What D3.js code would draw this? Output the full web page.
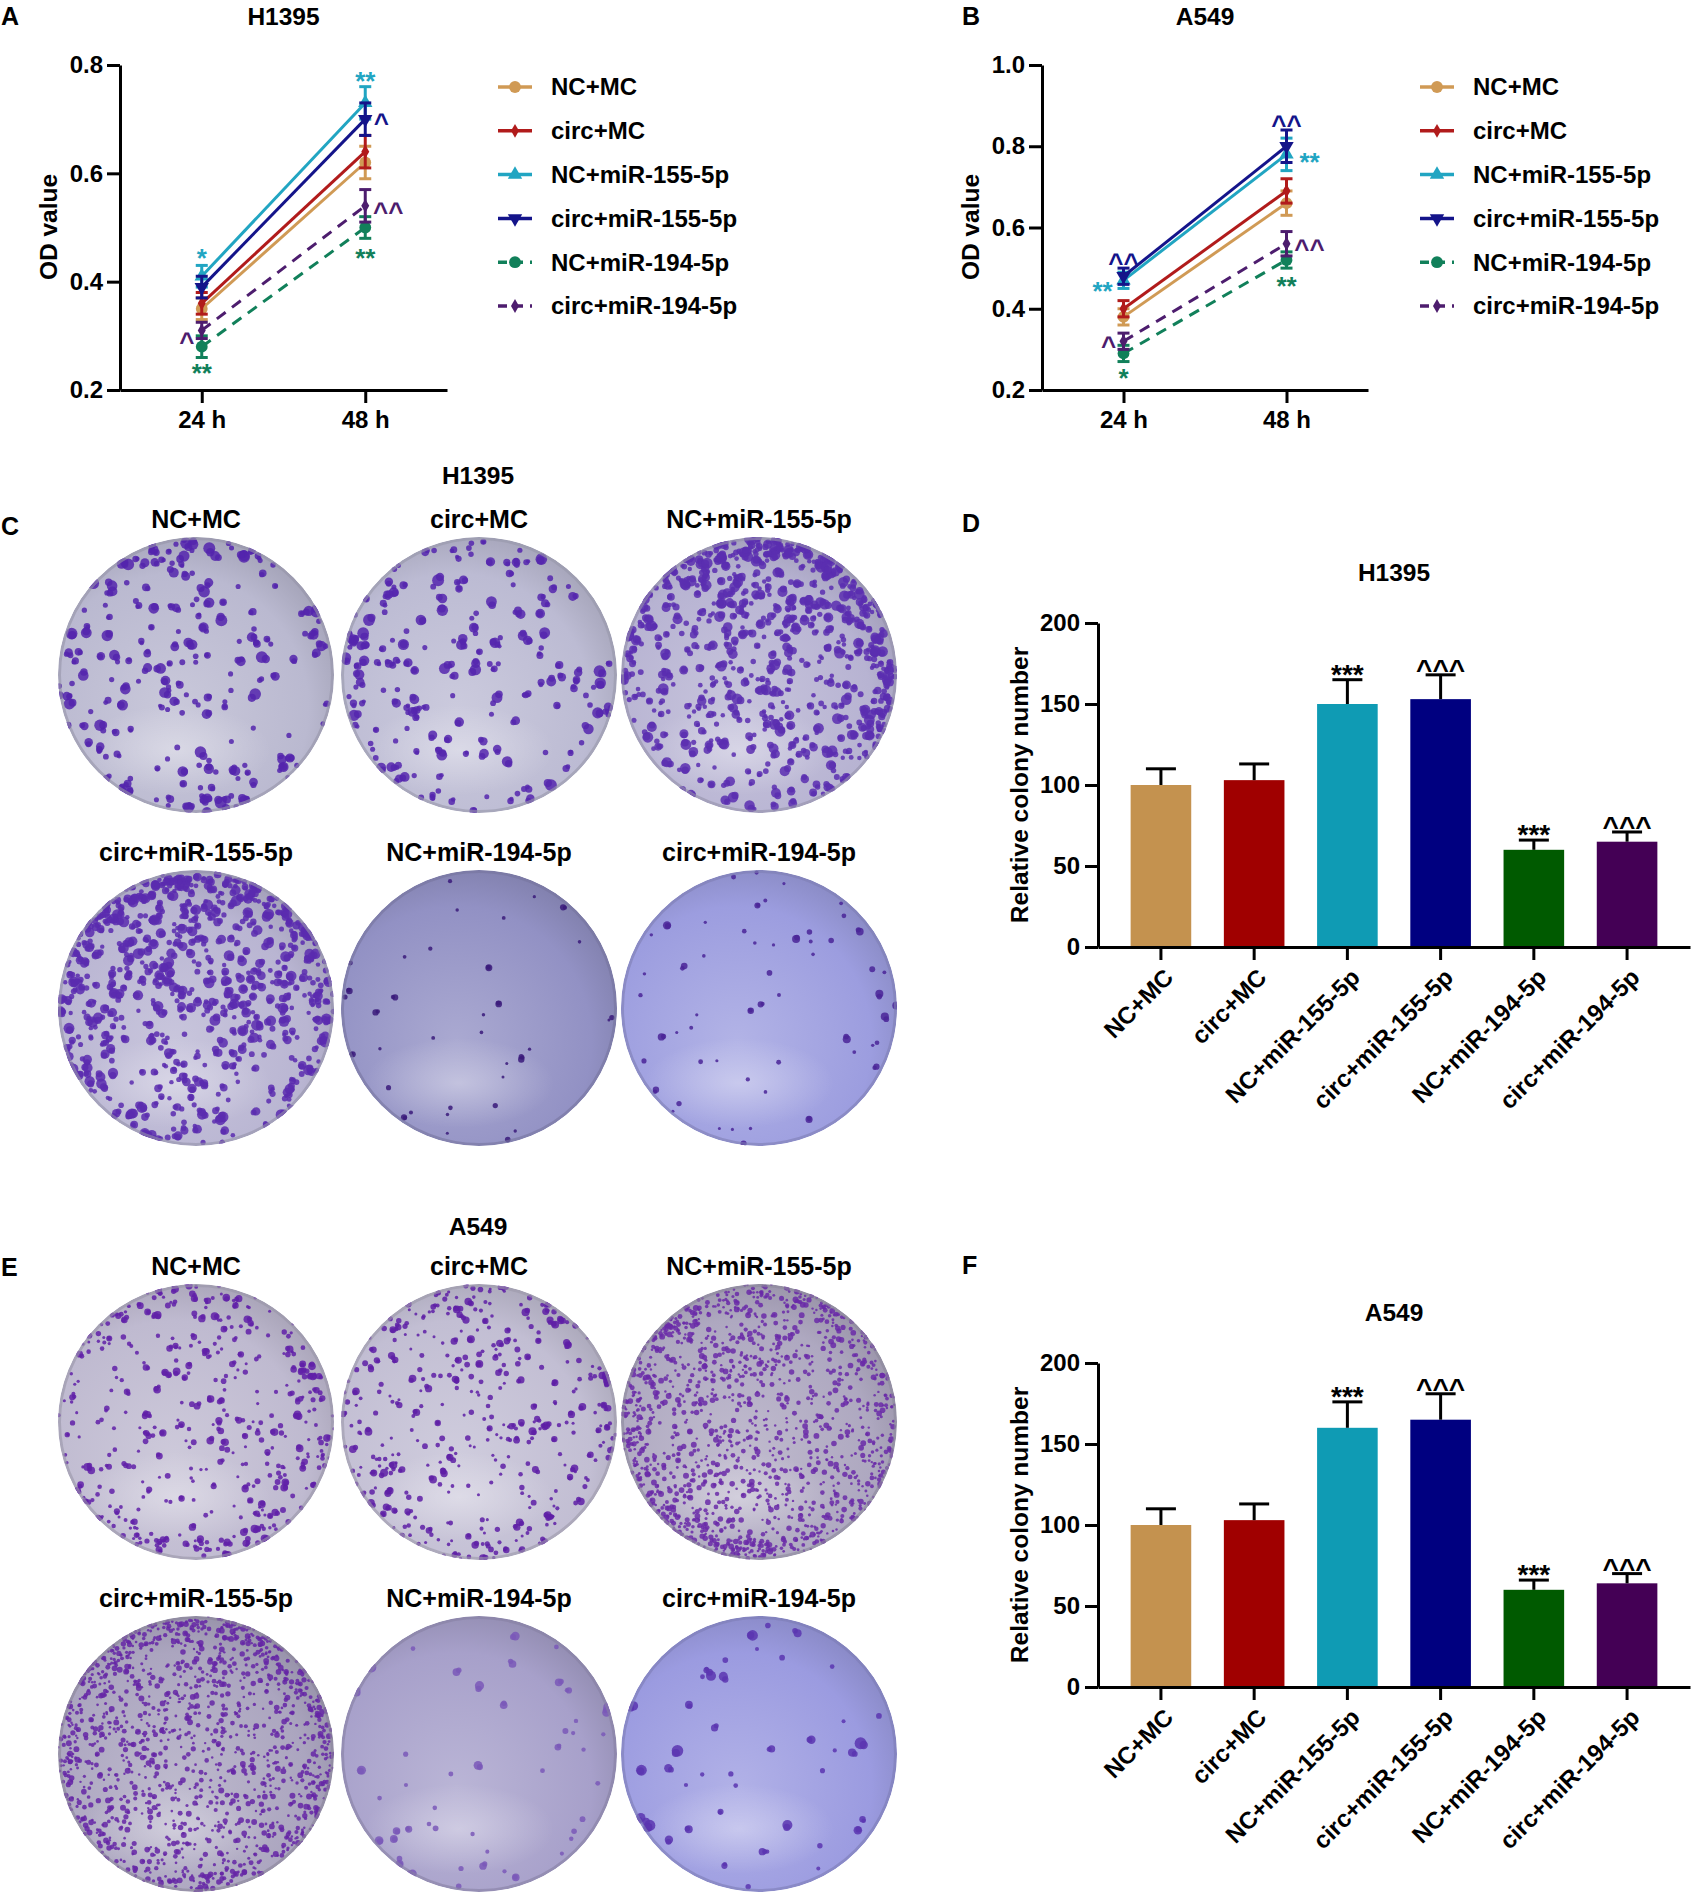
<!DOCTYPE html>
<html>
<head>
<meta charset="utf-8">
<script src="https://cdn.jsdelivr.net/npm/d3@7"></script>
<style>
  body { margin: 0; background: #fff; }
  svg { display: block; }
  text { font-family: "Liberation Sans", Arial, sans-serif; font-weight: bold; fill: #000; }
</style>
</head>
<body>
<script>
// ---- data ----
const groups = ["NC+MC", "circ+MC", "NC+miR-155-5p", "circ+miR-155-5p", "NC+miR-194-5p", "circ+miR-194-5p"];
const timePoints = ["24 h", "48 h"];

// OD values (mean at 24 h, 48 h) and error bars
const odH1395    = [[0.35, 0.62], [0.36, 0.64], [0.41, 0.73], [0.39, 0.70], [0.28, 0.50], [0.31, 0.54]];
const odH1395Err = [[0.02, 0.03], [0.02, 0.03], [0.02, 0.03], [0.02, 0.03], [0.02, 0.02], [0.015, 0.03]];
const odA549     = [[0.38, 0.66], [0.40, 0.69], [0.47, 0.78], [0.48, 0.80], [0.29, 0.52], [0.32, 0.56]];
const odA549Err  = [[0.02, 0.03], [0.02, 0.03], [0.02, 0.04], [0.02, 0.04], [0.02, 0.02], [0.02, 0.03]];
const odTicksH1395 = [0.2, 0.4, 0.6, 0.8];
const odTicksA549  = [0.2, 0.4, 0.6, 0.8, 1.0];

// relative colony numbers
const colonyH1395    = [100, 103, 150, 153, 60, 65];
const colonyH1395Err = [10, 10, 15, 15, 6, 6];
const colonyA549     = [100, 103, 160, 165, 60, 64];
const colonyA549Err  = [10, 10, 16, 16, 6, 6];
const colonyMarks    = ["", "", "***", "^^^", "***", "^^^"];
const colonyTicks    = [0, 50, 100, 150, 200];

// significance marks on the OD curves: group, time index, text, offset from the point
const marksH1395 = [
  {g: 2, t: 0, s: "*",  dx: 0,   dy: -23},
  {g: 2, t: 1, s: "**", dx: 0,   dy: -27},
  {g: 3, t: 1, s: "^",  dx: 16,  dy: -1},
  {g: 5, t: 1, s: "^^", dx: 23,  dy: 1},
  {g: 4, t: 1, s: "**", dx: 0,   dy: 25},
  {g: 5, t: 0, s: "^",  dx: -15, dy: 7},
  {g: 4, t: 0, s: "**", dx: 0,   dy: 21}
];
const marksA549 = [
  {g: 3, t: 0, s: "^^", dx: 0,   dy: -18},
  {g: 2, t: 0, s: "**", dx: -21, dy: 6},
  {g: 5, t: 0, s: "^",  dx: -15, dy: 0},
  {g: 4, t: 0, s: "*",  dx: 0,   dy: 20},
  {g: 3, t: 1, s: "^^", dx: 0,   dy: -26},
  {g: 2, t: 1, s: "**", dx: 23,  dy: 3},
  {g: 5, t: 1, s: "^^", dx: 23,  dy: 0},
  {g: 4, t: 1, s: "**", dx: 0,   dy: 21}
];

// ---- styles ----
const lineColors = ["#D09A55", "#B11B1B", "#21A5C2", "#14148A", "#11805A", "#4D1D6E"];
const barColors  = ["#C4924F", "#A00000", "#0F9BB4", "#000080", "#005A00", "#440055"];
const symbols = [d3.symbolCircle, d3.symbolDiamond, d3.symbolTriangle, d3.symbolTriangle, d3.symbolCircle, d3.symbolDiamond];
const symbolSize = [110, 55, 90, 90, 110, 55];
const symbolRotate = [0, 0, 0, 180, 0, 0];

// plate photo look (texture only, not data)
const plateBg       = ["#bab9d0", "#bcbbd3", "#b7b3d2", "#b9b5d2", "#9291c4", "#9c9ddf",
                       "#bfbad0", "#c2bed3", "#aea8c0", "#aba5bf", "#a7a0ca", "#9b9be0"];
const plateColonies = [340, 310, 1000, 1000, 45, 70, 520, 480, 1400, 1400, 70, 70];
const plateSize     = [[2.5, 6], [2.5, 6], [2.2, 5.5], [2.2, 5.5], [1.5, 3.5], [1.5, 4.5],
                       [1.5, 4], [1.5, 4], [1.2, 3], [1.2, 3], [2, 5], [2, 6]];
const plateInk      = ["#5324ad", "#5526ae", "#5a2eb0", "#5a2caf", "#3a1a7a", "#4a2598",
                       "#6020a8", "#5e1fa6", "#6a2aa8", "#6526a6", "#7a58b8", "#5a35b0"];
// where colonies crowd on each plate: direction (radians, svg coords) and strength
const plateBias     = [[Math.PI, 0.3], [Math.PI, 0.4], [-Math.PI / 3, 0.7], [-Math.PI / 2, 0.5], [0, 0], [0, 0],
                       [0, 0.2], [-Math.PI / 2, 0.2], [Math.PI, 0.2], [-Math.PI / 2, 0.3], [Math.PI / 3, 0.6], [Math.PI, 0.3]];

const W = 1693, H = 1896;
const svg = d3.select("body").append("svg").attr("width", W).attr("height", H);
const defs = svg.append("defs");

const hl = defs.append("radialGradient").attr("id", "shine");
hl.append("stop").attr("offset", "0%").attr("stop-color", "#fff").attr("stop-opacity", 0.35);
hl.append("stop").attr("offset", "100%").attr("stop-color", "#fff").attr("stop-opacity", 0);

function styleAxis(g) {
  g.select(".domain").attr("stroke", "#000").attr("stroke-width", 3);
  g.selectAll(".tick line").attr("stroke", "#000").attr("stroke-width", 3);
  g.selectAll(".tick text").attr("font-size", 24).attr("fill", "#000")
    .attr("font-family", '"Liberation Sans", Arial, sans-serif').attr("font-weight", "bold");
}

function addText(x, y, s, size, anchor) {
  return svg.append("text").attr("x", x).attr("y", y).attr("font-size", size)
    .attr("text-anchor", anchor || "middle").text(s);
}

// ---- line charts (A, B) ----
function drawLinePanel(p) {
  const g = svg.append("g");
  const x = d3.scalePoint().domain(timePoints).range([p.x0, p.x1]).padding(0.5);
  const y = d3.scaleLinear().domain(p.domain).range([390, 65]);

  g.append("g").attr("transform", `translate(${p.x0},0)`)
    .call(d3.axisLeft(y).tickValues(p.ticks).tickFormat(d3.format(".1f")).tickSize(13).tickSizeOuter(0).tickPadding(4))
    .call(styleAxis);
  g.append("g").attr("transform", `translate(0,390)`)
    .call(d3.axisBottom(x).tickSize(13).tickSizeOuter(0).tickPadding(8))
    .call(styleAxis);

  g.append("text").attr("transform", `translate(${p.x0 - 72},227) rotate(-90)`)
    .attr("text-anchor", "middle").attr("dy", "0.35em").attr("font-size", 24.5).text("OD value");

  const line = d3.line().x((d, i) => x(timePoints[i])).y(d => y(d));

  groups.forEach((name, i) => {
    const col = lineColors[i];
    g.append("path").datum(p.values[i]).attr("d", line)
      .attr("fill", "none").attr("stroke", col).attr("stroke-width", 3)
      .attr("stroke-dasharray", i >= 4 ? "11,8" : null);

    p.values[i].forEach((v, t) => {
      const e = p.errors[i][t], cx = x(timePoints[t]);
      g.append("line").attr("x1", cx).attr("x2", cx).attr("y1", y(v - e)).attr("y2", y(v + e))
        .attr("stroke", col).attr("stroke-width", 3);
      [v - e, v + e].forEach(c => g.append("line").attr("x1", cx - 6).attr("x2", cx + 6)
        .attr("y1", y(c)).attr("y2", y(c)).attr("stroke", col).attr("stroke-width", 3));
      g.append("path").attr("d", d3.symbol().type(symbols[i]).size(symbolSize[i])())
        .attr("transform", `translate(${cx},${y(v)}) rotate(${symbolRotate[i]})`).attr("fill", col);
    });
  });

  p.marks.forEach(m => {
    g.append("text").attr("x", x(timePoints[m.t]) + m.dx).attr("y", y(p.values[m.g][m.t]) + m.dy + 14)
      .attr("text-anchor", "middle").attr("font-size", 26).style("fill", lineColors[m.g]).text(m.s);
  });

  // legend
  groups.forEach((name, i) => {
    const ly = 87 + i * 43.8, lx = p.x0 + 378;
    g.append("line").attr("x1", lx).attr("x2", lx + 34).attr("y1", ly).attr("y2", ly)
      .attr("stroke", lineColors[i]).attr("stroke-width", 3.5)
      .attr("stroke-dasharray", i >= 4 ? "9,7" : null);
    g.append("path").attr("d", d3.symbol().type(symbols[i]).size(symbolSize[i])())
      .attr("transform", `translate(${lx + 17},${ly}) rotate(${symbolRotate[i]})`).attr("fill", lineColors[i]);
    g.append("text").attr("x", p.x0 + 431).attr("y", ly).attr("dy", "0.35em")
      .attr("font-size", 24).text(name);
  });

  addText((p.x0 + p.x1) / 2, 25, p.title, 24.5);
}

// ---- bar charts (D, F) ----
function drawBarPanel(p) {
  const g = svg.append("g");
  const x = d3.scaleBand().domain(groups).range([1098, 1690]).paddingInner(0.35).paddingOuter(0.35);
  const y = d3.scaleLinear().domain([0, 200]).range([p.y0, p.y0 - 324]);

  g.selectAll("rect").data(p.values).enter().append("rect")
    .attr("x", (d, i) => x(groups[i])).attr("width", x.bandwidth())
    .attr("y", d => y(d)).attr("height", d => p.y0 - y(d))
    .attr("fill", (d, i) => barColors[i]);

  p.values.forEach((v, i) => {
    const cx = x(groups[i]) + x.bandwidth() / 2, top = y(v + p.errors[i]);
    g.append("line").attr("x1", cx).attr("x2", cx).attr("y1", y(v)).attr("y2", top)
      .attr("stroke", "#000").attr("stroke-width", 3);
    g.append("line").attr("x1", cx - 15).attr("x2", cx + 15).attr("y1", top).attr("y2", top)
      .attr("stroke", "#000").attr("stroke-width", 3);
    if (colonyMarks[i]) g.append("text").attr("x", cx).attr("y", top + 4)
      .attr("text-anchor", "middle").attr("font-size", 28).text(colonyMarks[i]);
  });

  g.append("g").attr("transform", `translate(1098,0)`)
    .call(d3.axisLeft(y).tickValues(colonyTicks).tickSize(13).tickSizeOuter(0).tickPadding(5))
    .call(styleAxis);
  const xa = g.append("g").attr("transform", `translate(0,${p.y0})`)
    .call(d3.axisBottom(x).tickSize(13).tickSizeOuter(0))
    .call(styleAxis);
  xa.selectAll(".tick text").attr("text-anchor", "end").attr("y", null)
    .attr("transform", "translate(8,26) rotate(-45)").attr("dy", "0.35em");

  g.append("text").attr("transform", `translate(1019,${p.y0 - 162}) rotate(-90)`)
    .attr("text-anchor", "middle").attr("dy", "0.35em").attr("font-size", 24.5).text("Relative colony number");

  addText(1394, p.y0 - 366, p.title, 24.5);
}

// ---- colony plates (C, E) ----
const plateCols = [196, 479, 759];
const plateR = 138;

function drawPlate(cx, cy, k) {
  const id = "plate" + k;
  const grad = defs.append("radialGradient").attr("id", id + "g").attr("cx", "42%").attr("cy", "62%").attr("r", "65%");
  const base = d3.color(plateBg[k]);
  grad.append("stop").attr("offset", "0%").attr("stop-color", d3.interpolateRgb(base, "#ffffff")(0.22));
  grad.append("stop").attr("offset", "75%").attr("stop-color", base.formatHex());
  grad.append("stop").attr("offset", "100%").attr("stop-color", base.darker(0.35).formatHex());
  defs.append("clipPath").attr("id", id + "c").append("circle").attr("cx", cx).attr("cy", cy).attr("r", plateR);

  const g = svg.append("g").attr("clip-path", `url(#${id}c)`);
  g.append("circle").attr("cx", cx).attr("cy", cy).attr("r", plateR).attr("fill", `url(#${id}g)`);
  g.append("ellipse").attr("cx", cx - 20).attr("cy", cy + 75).attr("rx", 95).attr("ry", 45)
    .attr("fill", "url(#shine)");

  const rnd = d3.randomLcg(0.137 * (k + 1));
  const [smin, smax] = plateSize[k];
  const [bAng, bStr] = plateBias[k];
  const n = plateColonies[k];
  const dots = [];
  let tries = 0;
  while (dots.length < n && tries < n * 6) {
    tries++;
    const a = rnd() * 2 * Math.PI;
    const rim = rnd() < 0.22;
    const rr = rim ? plateR * (0.86 + 0.14 * rnd()) : plateR * Math.sqrt(rnd());
    const w = 1 + bStr * Math.cos(a - bAng) * (rr / plateR);
    if (rnd() * (1 + bStr) > w) continue;
    const s = smin + (smax - smin) * Math.pow(rnd(), 1.6);
    const px = cx + rr * Math.cos(a), py = cy + rr * Math.sin(a);
    dots.push([px, py, s]);
    if (s > 3) dots.push([px + s * (rnd() - 0.5) * 1.4, py + s * (rnd() - 0.5) * 1.4, s * 0.7]);
  }
  g.selectAll(null).data(dots).enter().append("circle")
    .attr("cx", d => d[0]).attr("cy", d => d[1]).attr("r", d => d[2])
    .attr("fill", plateInk[k]).attr("fill-opacity", 0.85);

  g.append("circle").attr("cx", cx).attr("cy", cy).attr("r", plateR - 1.5)
    .attr("fill", "none").attr("stroke", base.darker(0.6).formatHex()).attr("stroke-width", 3).attr("stroke-opacity", 0.6);
}

function drawPlatePanel(p) {
  addText(478, p.titleY, p.title, 24.5);
  groups.forEach((name, i) => {
    const row = Math.floor(i / 3), col = i % 3;
    addText(plateCols[col], p.labelY[row], name, 25);
    drawPlate(plateCols[col], p.rowY[row], p.offset + i);
  });
}

// ---- panels ----
drawLinePanel({x0: 120, x1: 447, domain: [0.2, 0.8], ticks: odTicksH1395,
  values: odH1395, errors: odH1395Err, marks: marksH1395, title: "H1395"});
drawLinePanel({x0: 1042, x1: 1368, domain: [0.2, 1.0], ticks: odTicksA549,
  values: odA549, errors: odA549Err, marks: marksA549, title: "A549"});

drawPlatePanel({title: "H1395", titleY: 484, labelY: [528, 861], rowY: [675, 1008], offset: 0});
drawPlatePanel({title: "A549", titleY: 1235, labelY: [1275, 1607], rowY: [1422, 1754], offset: 6});

drawBarPanel({y0: 947, values: colonyH1395, errors: colonyH1395Err, title: "H1395"});
drawBarPanel({y0: 1687, values: colonyA549, errors: colonyA549Err, title: "A549"});

// panel letters
[["A", 1, 25], ["B", 962, 25], ["C", 1, 535], ["D", 962, 532], ["E", 1, 1276], ["F", 962, 1274]]
  .forEach(([s, x, y]) => addText(x, y, s, 25, "start"));
</script>
</body>
</html>
